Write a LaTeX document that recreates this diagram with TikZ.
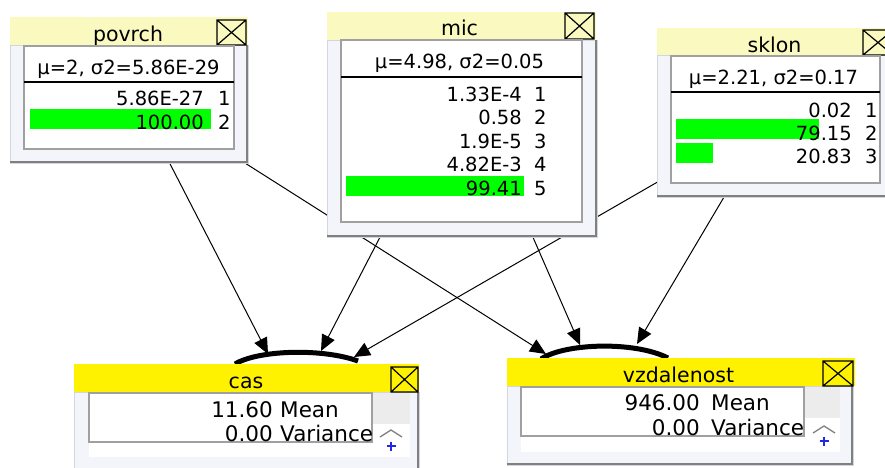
\documentclass[tikz,border=0pt]{standalone}
\usepackage{fontspec}
\setmainfont{DejaVu Sans}
\usetikzlibrary{arrows.meta}
\pgfdeclarelayer{bgzero}
\pgfdeclarelayer{links}
\pgfsetlayers{bgzero,links,main}
\definecolor{paleyellow}{RGB}{250,249,192}
\definecolor{panelbg}{RGB}{243,245,251}
\definecolor{paneledge}{RGB}{210,214,222}
\definecolor{framegray}{RGB}{160,160,160}
\definecolor{shadowgray}{RGB}{128,128,128}
\definecolor{barcolor}{RGB}{0,255,0}
\definecolor{greyblock}{RGB}{236,236,236}
\definecolor{iconblue}{RGB}{30,40,230}
\tikzset{
  paneltitle/.style={fill=paleyellow},
  childtitle/.style={fill=yellow},
  panelbody/.style={fill=panelbg, draw=paneledge, line width=0.8pt},
  panelshadow/.style={draw=shadowgray, line width=2pt},
  innerbox/.style={fill=white, draw=framegray, line width=1.5pt},
  innerframe/.style={draw=framegray, line width=1.5pt},
  sepline/.style={draw=black, line width=1.2pt},
  bar/.style={fill=barcolor},
  closebox/.style={draw=black, line width=1.2pt},
  txt/.style={inner sep=0pt, font=\fontsize{19.5}{22}\selectfont},
  ttl/.style={inner sep=0pt, font=\fontsize{20.5}{24}\selectfont},
  ctxt/.style={inner sep=0pt, font=\fontsize{21.5}{25}\selectfont},
  linkarrow/.style={draw=black, line width=1pt, -{Triangle[length=16pt,width=14pt]}},
  hump/.style={draw=black, line width=5pt},
  chevron/.style={draw=gray, line width=1.3pt},
  plusmark/.style={draw=iconblue, line width=2pt},
}
\newcommand{\xbox}[4]{\draw[closebox] (#1,#2) rectangle (#3,#4) (#1,#2) -- (#3,#4) (#1,#4) -- (#3,#2);}
\begin{document}
\begin{tikzpicture}[x=1pt,y=-1pt]
\begin{pgfonlayer}{bgzero}
\fill[white] (0,0) rectangle (885,467);
\end{pgfonlayer}
\useasboundingbox (0,0) rectangle (885,467);
\clip (0,0) rectangle (885,467);

% connector origins and tips
\coordinate (povrch-o) at (133,92);
\coordinate (mic-o) at (463,77);
\coordinate (sklon-o) at (772,116);
\coordinate (cas-in1) at (268,354);
\coordinate (cas-in2) at (321,351);
\coordinate (cas-in3) at (354,357);
\coordinate (vzd-in1) at (546,354);
\coordinate (vzd-in2) at (580,345);
\coordinate (vzd-in3) at (637,344);

\begin{pgfonlayer}{links}
\draw[linkarrow] (povrch-o) -- (cas-in1);
\draw[linkarrow] (mic-o) -- (cas-in2);
\draw[linkarrow] (sklon-o) -- (cas-in3);
\draw[linkarrow] (povrch-o) -- (vzd-in1);
\draw[linkarrow] (mic-o) -- (vzd-in2);
\draw[linkarrow] (sklon-o) -- (vzd-in3);
\end{pgfonlayer}

% ---------- povrch ----------
\draw[panelbody] (10,45) rectangle (248,163);
\draw[panelshadow] (10,162) -- (247,162) -- (247,45);
\fill[paneltitle] (10,17) rectangle (248,45);
\node[ttl, anchor=base] (povrch-title) at (128,41) {povrch};
\xbox{217}{20}{246}{45}
\draw[innerbox] (24,46) rectangle (234,149);
\draw[sepline] (24,82) -- (234,82);
\fill[bar] (30,109) rectangle (211,129);
\node[txt, anchor=base] (povrch-head) at (128.5,74) {μ=2, σ2=5.86E-29};
\node[txt, anchor=base east] (povrch-v1) at (204,105) {5.86E-27};
\node[txt, anchor=base west] (povrch-i1) at (218,105) {1};
\node[txt, anchor=base east] (povrch-v2) at (204,129) {100.00};
\node[txt, anchor=base west] (povrch-i2) at (218,129) {2};

% ---------- mic ----------
\draw[panelbody] (327,40) rectangle (597,237);
\draw[panelshadow] (327,236) -- (596,236) -- (596,40);
\fill[paneltitle] (327,12) rectangle (596,40);
\node[ttl, anchor=base] (mic-title) at (459.5,35) {mic};
\xbox{565}{13}{594}{39}
\draw[innerbox] (341,40) rectangle (582,222);
\draw[sepline] (341,77) -- (582,77);
\fill[bar] (346,176) rectangle (524,196);
\node[txt, anchor=base] (mic-head) at (459.5,68) {μ=4.98, σ2=0.05};
\node[txt, anchor=base east] (mic-v1) at (522,101) {1.33E-4};
\node[txt, anchor=base west] (mic-i1) at (534,101) {1};
\node[txt, anchor=base east] (mic-v2) at (522,124.5) {0.58};
\node[txt, anchor=base west] (mic-i2) at (534,124.5) {2};
\node[txt, anchor=base east] (mic-v3) at (522,148) {1.9E-5};
\node[txt, anchor=base west] (mic-i3) at (534,148) {3};
\node[txt, anchor=base east] (mic-v4) at (522,171.5) {4.82E-3};
\node[txt, anchor=base west] (mic-i4) at (534,171.5) {4};
\node[txt, anchor=base east] (mic-v5) at (522,195) {99.41};
\node[txt, anchor=base west] (mic-i5) at (534,195) {5};

% ---------- sklon ----------
\draw[panelbody] (657,55) rectangle (895,197);
\draw[panelshadow] (657,196) -- (894,196);
\fill[paneltitle] (657,28) rectangle (895,55);
\node[ttl, anchor=base] (sklon-title) at (774.5,52) {sklon};
\xbox{863}{30}{893}{55}
\draw[innerbox] (671,56) rectangle (880,183);
\draw[sepline] (671,92) -- (880,92);
\fill[bar] (676,119) rectangle (819,139);
\fill[bar] (676,143) rectangle (713,163);
\node[txt, anchor=base] (sklon-head) at (773.5,84) {μ=2.21, σ2=0.17};
\node[txt, anchor=base east] (sklon-v1) at (852,117) {0.02};
\node[txt, anchor=base west] (sklon-i1) at (865,117) {1};
\node[txt, anchor=base east] (sklon-v2) at (852,140) {79.15};
\node[txt, anchor=base west] (sklon-i2) at (865,140) {2};
\node[txt, anchor=base east] (sklon-v3) at (852,163) {20.83};
\node[txt, anchor=base west] (sklon-i3) at (865,163) {3};

% ---------- humps ----------
\draw[hump] (235,364) .. controls (258,350) and (322,348) .. (358,361);
\draw[hump] (541,359) .. controls (565,343) and (635,341) .. (668,358);

% ---------- cas ----------
\draw[panelbody] (74,392) rectangle (419,480);
\draw[panelshadow] (418,392) -- (418,480);
\fill[childtitle] (74,364) rectangle (419,392);
\node[ttl, anchor=base] (cas-title) at (246,388) {cas};
\xbox{391}{367}{418}{392}
\fill[white] (89,393) rectangle (410,457);
\fill[greyblock] (372,393) rectangle (410,424);
\draw[innerframe] (89,393) rectangle (372,442);
\node[ctxt, anchor=base east] (cas-mean) at (273,417) {11.60};
\node[ctxt, anchor=base west] (cas-meanlab) at (280,417) {Mean};
\node[ctxt, anchor=base east] (cas-var) at (273,441) {0.00};
\node[ctxt, anchor=base west] (cas-varlab) at (280,441) {Variance};
\draw[chevron] (380,437) -- (391,430) -- (402,437);
\draw[plusmark] (386.5,446) -- (395.5,446) (391,441.5) -- (391,450.5);

% ---------- vzdalenost ----------
\draw[panelbody] (507,386) rectangle (853,465);
\draw[panelshadow] (507,464) -- (852,464) -- (852,386);
\fill[childtitle] (507,358) rectangle (855,386);
\node[ttl, anchor=base] (vzd-title) at (678.5,382) {vzdalenost};
\xbox{823}{361}{853}{386}
\fill[white] (521,387) rectangle (840,452);
\fill[greyblock] (804,387) rectangle (840,418);
\draw[innerframe] (521,387) rectangle (804,436);
\node[ctxt, anchor=base east] (vzd-mean) at (700,410) {946.00};
\node[ctxt, anchor=base west] (vzd-meanlab) at (711,410) {Mean};
\node[ctxt, anchor=base east] (vzd-var) at (700,435) {0.00};
\node[ctxt, anchor=base west] (vzd-varlab) at (711,435) {Variance};
\draw[chevron] (813,433) -- (824,426) -- (835,433);
\draw[plusmark] (819.5,441) -- (828.5,441) (824,436.5) -- (824,445.5);
\end{tikzpicture}
\end{document}
